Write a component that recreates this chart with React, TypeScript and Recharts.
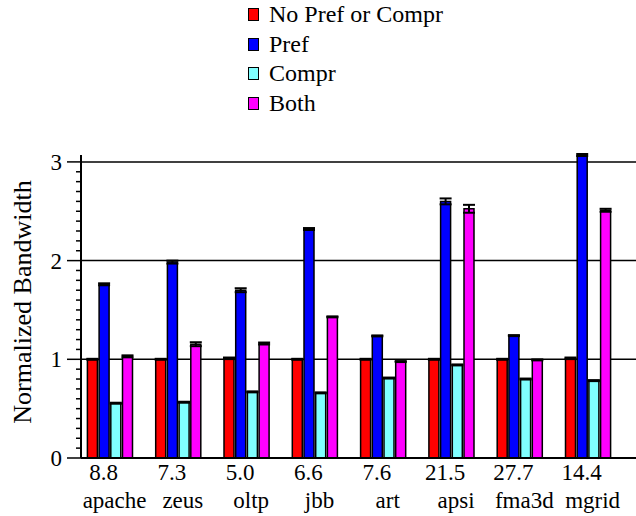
import { BarChart, Bar, XAxis, YAxis, CartesianGrid, ErrorBar } from "recharts";

const benchmarks = ["apache", "zeus", "oltp", "jbb", "art", "apsi", "fma3d", "mgrid"];
const baseBandwidth = ["8.8", "7.3", "5.0", "6.6", "7.6", "21.5", "27.7", "14.4"];

const noPrefOrCompr = [1.0, 1.0, 1.01, 1.0, 1.0, 1.0, 1.0, 1.01];
const pref = [1.76, 1.985, 1.7, 2.32, 1.237, 2.6, 1.24, 3.07];
const compr = [0.555, 0.565, 0.67, 0.66, 0.81, 0.943, 0.8, 0.784];
const both = [1.03, 1.153, 1.16, 1.43, 0.977, 2.525, 0.994, 2.51];

const noPrefErr = [0.005, 0.005, 0.008, 0.005, 0.005, 0.005, 0.005, 0.008];
const prefErr = [0.01, 0.015, 0.02, 0.01, 0.005, 0.03, 0.005, 0.01];
const comprErr = [0.005, 0.005, 0.005, 0.005, 0.005, 0.005, 0.005, 0.005];
const bothErr = [0.01, 0.02, 0.01, 0.005, 0.005, 0.04, 0.005, 0.015];

const majorTicks = [0, 1, 2, 3];
const yTicks = Array.from({ length: 31 }, (_, i) => i / 10);

const series = [
  { key: "noPref", err: "noPrefErr", name: "No Pref or Compr", color: "#ff0000" },
  { key: "pref", err: "prefErr", name: "Pref", color: "#0000ff" },
  { key: "compr", err: "comprErr", name: "Compr", color: "#80ffff" },
  { key: "both", err: "bothErr", name: "Both", color: "#ff00ff" },
];

const data = benchmarks.map((name, i) => ({
  name,
  noPref: noPrefOrCompr[i],
  noPrefErr: noPrefErr[i],
  pref: pref[i],
  prefErr: prefErr[i],
  compr: compr[i],
  comprErr: comprErr[i],
  both: both[i],
  bothErr: bothErr[i],
}));

const FONT = "Liberation Serif, Tinos, serif";

// y ticks: long tick + label on integers, short minor ticks every 0.1
const YTick = ({ x, y, payload }: any) => {
  const v = Math.round(payload.value * 10) / 10;
  const major = majorTicks.includes(v);
  return (
    <g>
      <line x1={major ? x - 14 : x - 5} x2={x} y1={y} y2={y} stroke="#000" strokeWidth={1.5} />
      {major && (
        <text x={x - 19} y={y} dy="0.35em" textAnchor="end" fontSize={23} fill="#000" fontFamily={FONT}>
          {v}
        </text>
      )}
    </g>
  );
};

// two-line category label: base bandwidth over benchmark name
const XTick = ({ x, y, payload, index }: any) => (
  <g>
    <text x={x - 6} y={y + 22} textAnchor="middle" fontSize={23} fill="#000" fontFamily={FONT}>
      {baseBandwidth[index]}
    </text>
    <text x={x + 5} y={y + 50} textAnchor="middle" fontSize={23} fill="#000" fontFamily={FONT}>
      {payload.value}
    </text>
  </g>
);

export default function App() {
  return (
    <div style={{ position: "absolute", top: 0, left: 0, width: 636, height: 516, background: "#fff", fontFamily: FONT }}>
      {/* legend */}
      <div style={{ position: "absolute", top: 0, left: 248 }}>
        {series.map((s) => (
          <div key={s.key} style={{ display: "flex", alignItems: "center", height: 29.5, fontSize: 24, color: "#000" }}>
            <span
              style={{
                display: "inline-block",
                width: 9,
                height: 11,
                background: s.color,
                border: "1.5px solid #000",
                marginRight: 10,
              }}
            />
            <span>{s.name}</span>
          </div>
        ))}
      </div>

      {/* y axis title */}
      <div
        style={{
          position: "absolute",
          left: 23,
          top: 302,
          transform: "translate(-50%, -50%) rotate(-90deg)",
          fontSize: 26,
          whiteSpace: "nowrap",
          color: "#000",
        }}
      >
        Normalized Bandwidth
      </div>

      <BarChart
        width={636}
        height={516}
        data={data}
        margin={{ top: 155, right: 0, bottom: 0, left: 0 }}
        barGap={1.7}
        barSize={10}
        style={{ position: "absolute", top: 0, left: 0 }}
      >
        <CartesianGrid horizontalValues={[1, 2, 3]} vertical={false} stroke="#000" strokeWidth={1.5} />
        <XAxis
          dataKey="name"
          height={58}
          padding={{ left: -5.6, right: 14.2 }}
          axisLine={{ stroke: "#000", strokeWidth: 2 }}
          tickLine={false}
          tickSize={0}
          tickMargin={0}
          interval={0}
          tick={<XTick />}
        />
        <YAxis
          width={81}
          domain={[0, 3.07]}
          ticks={yTicks}
          interval={0}
          allowDataOverflow
          axisLine={{ stroke: "#000", strokeWidth: 2 }}
          tickLine={false}
          tickSize={0}
          tickMargin={0}
          tick={<YTick />}
        />
        {series.map((s) => (
          <Bar key={s.key} dataKey={s.key} name={s.name} fill={s.color} stroke="#000" strokeWidth={1.5} isAnimationActive={false}>
            <ErrorBar dataKey={s.err} width={6} strokeWidth={2} stroke="#000" direction="y" />
          </Bar>
        ))}
      </BarChart>
    </div>
  );
}
